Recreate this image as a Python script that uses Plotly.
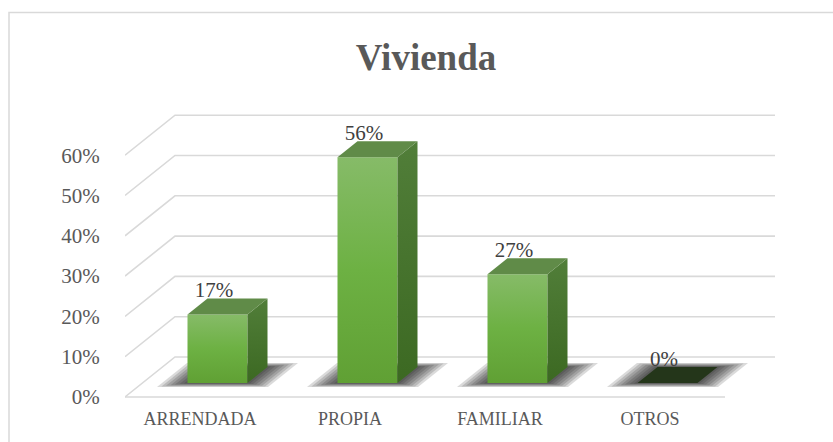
import plotly.graph_objects as go

# ---------------- data ----------------
categories = ["ARRENDADA", "PROPIA", "FAMILIAR", "OTROS"]
values = [17, 56, 27, 0]            # percent
y_ticks = [0, 10, 20, 30, 40, 50, 60]
y_tick_labels = [f"{t}%" for t in y_ticks]
chart_title = "Vivienda"

# ---------------- 3D styling (projection parameters) ----------------
DX = 1 / 3        # x-units shift per unit depth
DY = 9.93         # %-units shift per unit depth
Z0, Z1 = 0.35, 0.75   # bar depth extent
HALF = 0.2        # half bar width (category units)
FONT = "Liberation Serif"
GRID = "#d9d9d9"


def P(x, v, z):
    return x + z * DX, v + z * DY


def poly(pts):
    xs = [p[0] for p in pts] + [pts[0][0]]
    ys = [p[1] for p in pts] + [pts[0][1]]
    return xs, ys


fig = go.Figure()

# ---------------- gridlines (floor/wall) ----------------
gx, gy = [], []
n = len(categories)
for t in y_ticks:
    a = P(-0.5, t, 0)
    b = P(-0.5, t, 1)
    c = P(n - 0.5, t, 1)
    gx += [a[0], b[0], c[0], None]
    gy += [a[1], b[1], c[1], None]
a = P(-0.5, 0, 0)
b = P(n - 0.5, 0, 0)
gx += [a[0], b[0]]
gy += [a[1], b[1]]
fig.add_trace(go.Scatter(x=gx, y=gy, mode="lines", line=dict(color=GRID, width=1.6),
                         hoverinfo="skip", showlegend=False))

# ---------------- shadows (layered to imitate blur) ----------------
layers = [(0.17, 0.10), (0.145, 0.085), (0.12, 0.07), (0.095, 0.055), (0.07, 0.04), (0.045, 0.025), (0.02, 0.01)]
for i, v in enumerate(values):
    for ex, ez in layers:
        pts = [P(i - HALF - ex, 0, Z0 - ez), P(i + HALF + ex, 0, Z0 - ez),
               P(i + HALF + ex, 0, Z1 + ez), P(i - HALF - ex, 0, Z1 + ez)]
        xs, ys = poly(pts)
        fig.add_trace(go.Scatter(x=xs, y=ys, mode="lines", fill="toself",
                                 fillcolor="rgba(25,25,25,0.16)", line=dict(width=0),
                                 hoverinfo="skip", showlegend=False))

# ---------------- bars ----------------
for i, v in enumerate(values):
    if v > 0:
        # front face
        xs, ys = poly([P(i - HALF, 0, Z0), P(i + HALF, 0, Z0), P(i + HALF, v, Z0), P(i - HALF, v, Z0)])
        fig.add_trace(go.Scatter(x=xs, y=ys, mode="lines", fill="toself", line=dict(width=0),
                                 fillgradient=dict(type="vertical",
                                                   colorscale=[[0, "#60a034"], [0.5, "#6db143"], [1, "#86bb68"]]),
                                 hoverinfo="skip", showlegend=False))
        # side face
        xs, ys = poly([P(i + HALF, 0, Z0), P(i + HALF, 0, Z1), P(i + HALF, v, Z1), P(i + HALF, v, Z0)])
        fig.add_trace(go.Scatter(x=xs, y=ys, mode="lines", fill="toself", line=dict(width=0),
                                 fillgradient=dict(type="vertical",
                                                   colorscale=[[0, "#3c6922"], [1, "#517e39"]]),
                                 hoverinfo="skip", showlegend=False))
        # top face
        xs, ys = poly([P(i - HALF, v, Z0), P(i + HALF, v, Z0), P(i + HALF, v, Z1), P(i - HALF, v, Z1)])
        fig.add_trace(go.Scatter(x=xs, y=ys, mode="lines", fill="toself", line=dict(width=0),
                                 fillcolor="#608b48", hoverinfo="skip", showlegend=False))
    else:
        xs, ys = poly([P(i - HALF, 0, Z0), P(i + HALF, 0, Z0), P(i + HALF, 0, Z1), P(i - HALF, 0, Z1)])
        fig.add_trace(go.Scatter(x=xs, y=ys, mode="lines", fill="toself", line=dict(width=0),
                                 fillcolor="#24361a", hoverinfo="skip", showlegend=False))

# ---------------- data labels ----------------
fig.add_trace(go.Scatter(
    x=[i + 0.093 for i in range(n)],
    y=[v + 9.0 for v in values],
    mode="text",
    text=[f"{v}%" for v in values],
    textposition="middle center",
    textfont=dict(family=FONT, size=21, color="#404040"),
    hoverinfo="skip", showlegend=False, cliponaxis=False))

# ---------------- layout ----------------
L, R, T, B = 125, 33, 95, 37
PXW = 833 - L - R          # 675 px -> 4.5 units
PXH = 442 - T - B          # 310 px
ppu = 4.03                 # px per percent
y0 = 397                   # pixel of 0% on front plane
ymin = -((442 - B) - y0) / ppu
ymax = (y0 - T) / ppu

fig.update_layout(
    width=833, height=442,
    margin=dict(l=L, r=R, t=T, b=B, autoexpand=False),
    paper_bgcolor="white", plot_bgcolor="white",
    showlegend=False,
    title=dict(text=f"<b>{chart_title}</b>", x=426 / 833, xref="container", xanchor="center",
               y=1 - 57 / 442, yref="container", yanchor="middle",
               font=dict(family=FONT, size=37, color="#595959")),
    xaxis=dict(range=[-0.5, -0.5 + PXW / 150], showgrid=False, zeroline=False, showline=False,
               automargin=False,
               tickmode="array", tickvals=list(range(n)), ticktext=categories,
               ticks="", ticklabelstandoff=1,
               tickfont=dict(family=FONT, size=18, color="#595959")),
    yaxis=dict(range=[ymin, ymax], showgrid=False, zeroline=False, showline=False,
               automargin=False,
               tickmode="array", tickvals=y_ticks, ticktext=y_tick_labels,
               ticks="outside", ticklen=20, tickcolor="rgba(0,0,0,0)",
               tickfont=dict(family=FONT, size=21, color="#595959")),
    shapes=[dict(type="rect", xref="paper", yref="paper",
                 x0=(9 - L) / PXW, x1=(845 - L) / PXW,
                 y0=((442 - B) - 455) / PXH, y1=((442 - B) - 12.5) / PXH,
                 line=dict(color="#d9d9d9", width=1.5), fillcolor="rgba(0,0,0,0)", layer="below")],
)

fig.write_html("out.html", config={"displayModeBar": False},
               post_script="document.body.style.margin='0';document.body.style.overflow='hidden';")
